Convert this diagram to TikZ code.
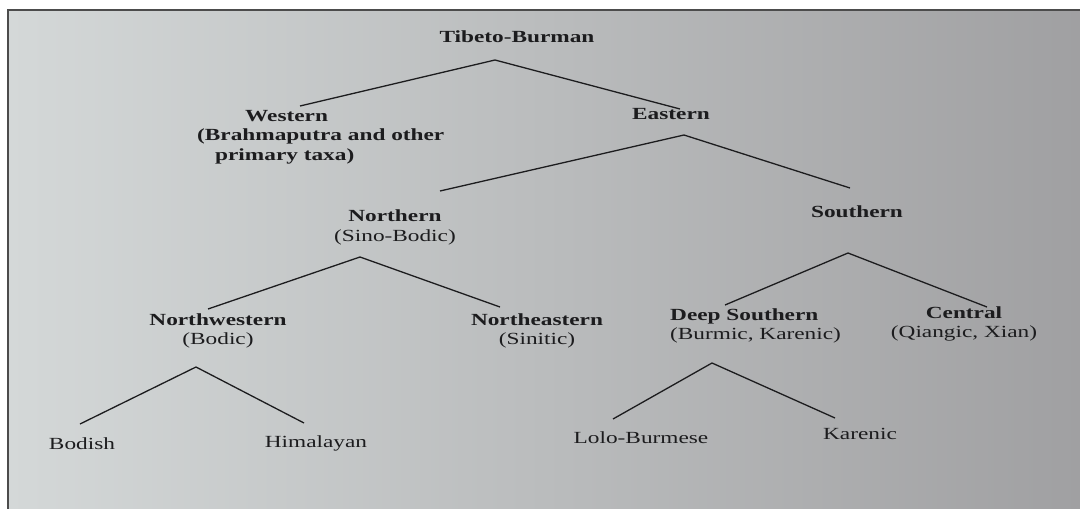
\documentclass[tikz,border=0pt]{standalone}
\usepackage{fontspec}
\setmainfont{Liberation Serif}[FakeStretch=1.37]
\usepackage{xcolor}
\usepackage{tikz}
\definecolor{screenl}{RGB}{212,216,216}
\definecolor{screenm}{RGB}{198,201,201}
\definecolor{screenr}{RGB}{160,160,162}
\definecolor{ink}{RGB}{28,28,30}

\begin{document}
\begin{tikzpicture}[x=1pt,y=-1pt,
		group/.style={font=\fontsize{17}{19.5}\selectfont\bfseries, text=ink, inner sep=0pt, anchor=north},
		leaf/.style={font=\fontsize{17}{19.5}\selectfont, text=ink, inner sep=0pt, anchor=north},
		branch/.style={draw=ink, line width=1.3pt}]
	\useasboundingbox (0,0) rectangle (1080,509);
	\shade[left color=screenl, middle color=screenm, right color=screenr] (8,10) rectangle (1080,509);
	\draw[line width=2.5pt, draw=black!70] (8,509) -- (8,10) -- (1080,10);

	\node[group] (tb) at (517,31) {Tibeto-Burman};
	\node[group, align=left, anchor=north west] (wes) at (197,110) {\hspace*{48pt}Western\\(Brahmaputra and other\\\hspace*{18pt}primary taxa)};
	\node[group] (eas) at (671,108) {Eastern};
	\node[group, align=center] (nor) at (395,210) {Northern\\\mdseries(Sino-Bodic)};
	\node[group] (sou) at (857,206) {Southern};
	\node[group, align=center] (nw) at (218,313) {Northwestern\\\mdseries(Bodic)};
	\node[group, align=center] (ne) at (537,313) {Northeastern\\\mdseries(Sinitic)};
	\node[group, align=left, anchor=north west] (ds) at (670,308) {Deep Southern\\\mdseries(Burmic, Karenic)};
	\node[group, align=center] (cen) at (964,306) {Central\\\mdseries(Qiangic, Xian)};
	\node[leaf] (bod) at (82,437) {Bodish};
	\node[leaf] (him) at (316,435) {Himalayan};
	\node[leaf] (lolo) at (641,431) {Lolo-Burmese};
	\node[leaf] (kar) at (860,428) {Karenic};

	\coordinate (tb-f) at (495,60);
	\coordinate (wes-e) at (300,106);
	\coordinate (eas-e) at (680,109);
	\coordinate (eas-f) at (684,135);
	\coordinate (nor-e) at (440,191);
	\coordinate (sou-e) at (850,188);
	\coordinate (nor-f) at (360,257);
	\coordinate (nw-e) at (208,309);
	\coordinate (ne-e) at (500,307);
	\coordinate (sou-f) at (848,253);
	\coordinate (ds-e) at (725,305);
	\coordinate (cen-e) at (987,307);
	\coordinate (nw-f) at (196,367);
	\coordinate (bod-e) at (80,424);
	\coordinate (him-e) at (304,423);
	\coordinate (ds-f) at (712,363);
	\coordinate (lolo-e) at (613,419);
	\coordinate (kar-e) at (835,418);

	\draw[branch] (wes-e) -- (tb-f) -- (eas-e);
	\draw[branch] (nor-e) -- (eas-f) -- (sou-e);
	\draw[branch] (nw-e) -- (nor-f) -- (ne-e);
	\draw[branch] (ds-e) -- (sou-f) -- (cen-e);
	\draw[branch] (bod-e) -- (nw-f) -- (him-e);
	\draw[branch] (lolo-e) -- (ds-f) -- (kar-e);
\end{tikzpicture}
\end{document}
